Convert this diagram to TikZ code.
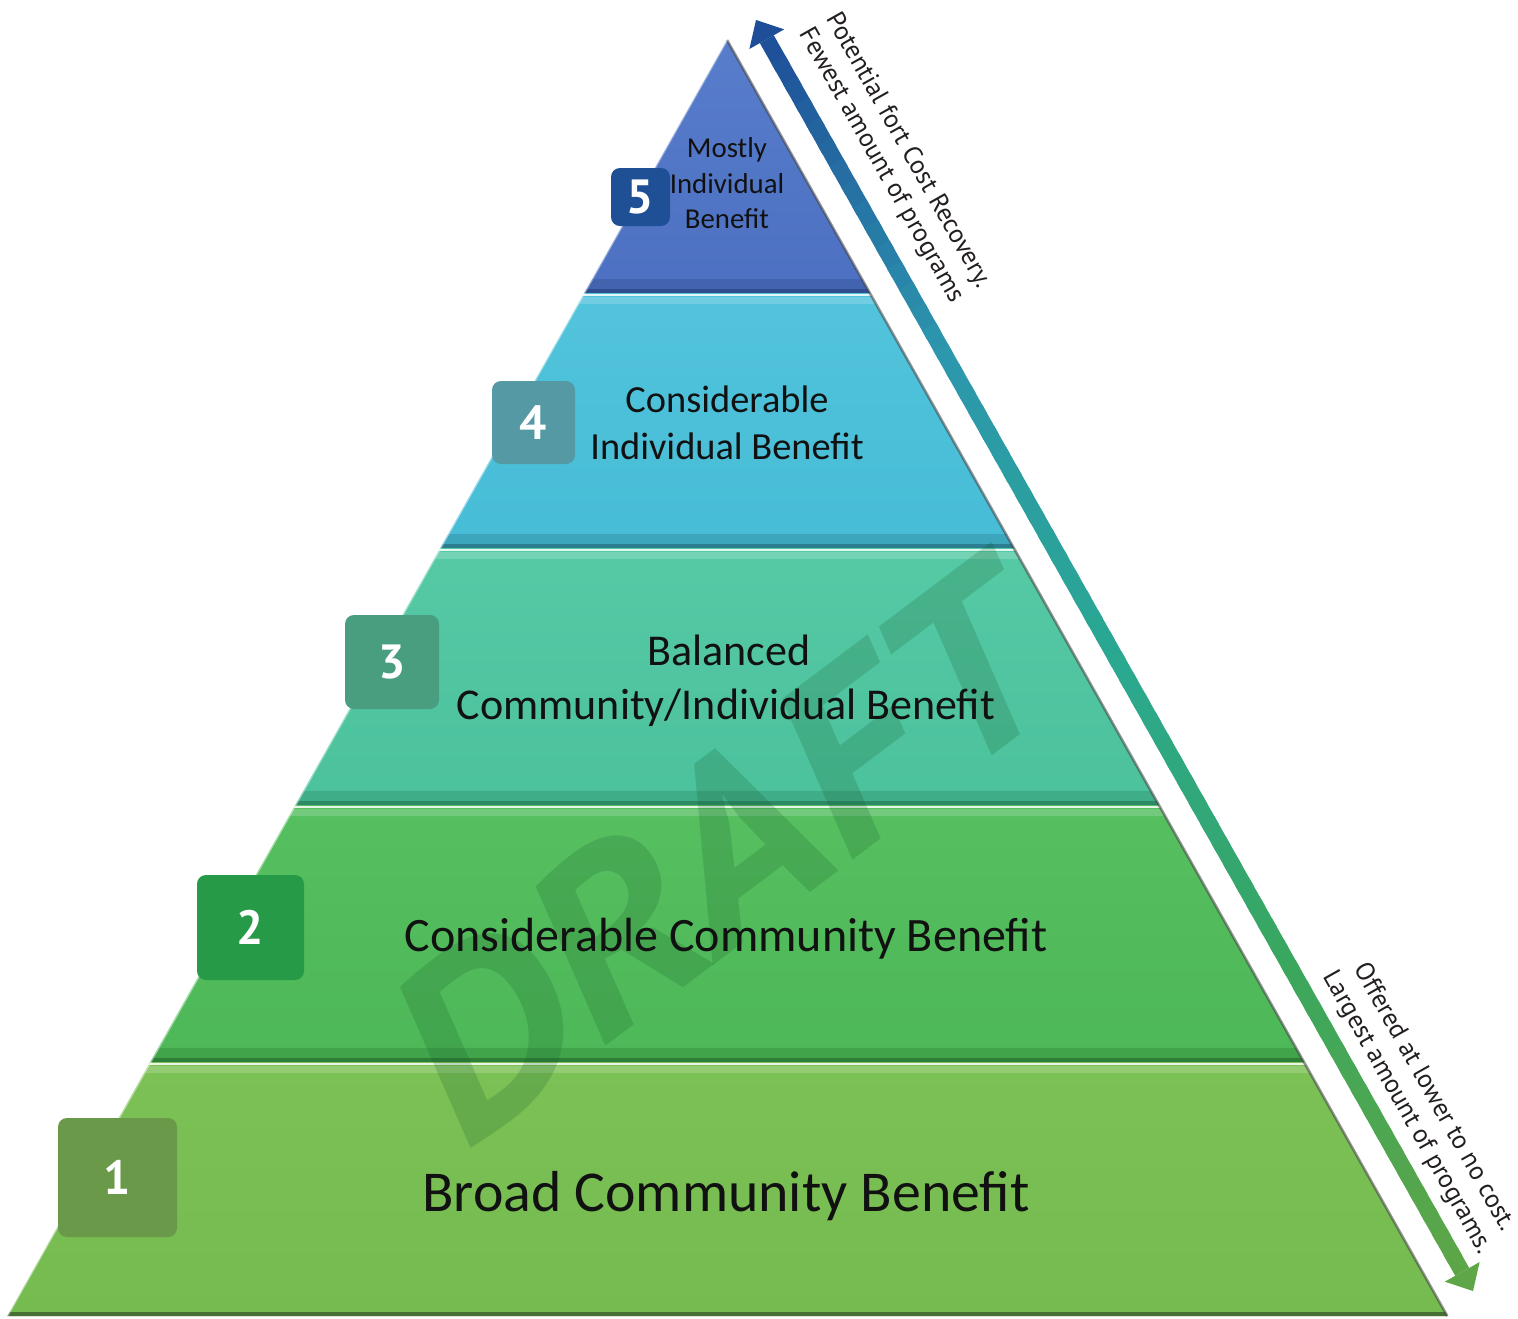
\documentclass[tikz,border=0pt]{standalone}
\usepackage{fontspec}
\setmainfont{Carlito}
\newfontfamily\ptsans{PT Sans}
\usetikzlibrary{calc}

% tier fills
\definecolor{t5}{HTML}{4D70C2}
\definecolor{t5top}{HTML}{587DCB}
\definecolor{t5dark}{HTML}{2E4C8E}
\definecolor{t4}{HTML}{47BCD6}
\definecolor{t4top}{HTML}{52C4DC}
\definecolor{t4dark}{HTML}{2A7E90}
\definecolor{t3}{HTML}{4BC19C}
\definecolor{t3top}{HTML}{56C9A5}
\definecolor{t3dark}{HTML}{2C8A66}
\definecolor{t2}{HTML}{4DB857}
\definecolor{t2top}{HTML}{56BF60}
\definecolor{t2dark}{HTML}{2D7F37}
\definecolor{t1}{HTML}{75BB4F}
\definecolor{t1top}{HTML}{7CC155}
\definecolor{t1dark}{HTML}{476F33}
% number badges
\definecolor{bd5}{HTML}{1F4F94}
\definecolor{bd4}{HTML}{5499A4}
\definecolor{bd3}{HTML}{4A9E80}
\definecolor{bd2}{HTML}{279A48}
\definecolor{bd1}{HTML}{6A994A}
% arrow gradient stops
\definecolor{arA}{HTML}{1F4E99}
\definecolor{arB}{HTML}{2C96AE}
\definecolor{arC}{HTML}{2AA892}
\definecolor{arD}{HTML}{3AA75E}
\definecolor{arE}{HTML}{5EA647}
\definecolor{labelc}{HTML}{111111}
\definecolor{arrtext}{HTML}{231F20}
\definecolor{wmgreen}{HTML}{145A28}

\begin{document}
\begin{tikzpicture}[x=0.5pt,y=-0.5pt,
  lbl/.style={anchor=base, text=labelc, inner sep=0pt},
  badge/.style={rounded corners=4.5pt, text=white, inner sep=0pt,
    font=\ptsans\bfseries\fontsize{24}{24}\selectfont},
  arrtxt/.style={rotate=-60.57, align=center, text=arrtext, inner sep=0pt,
    font=\ptsans\fontsize{13}{15.5}\selectfont}]

\useasboundingbox (0,0) rectangle (1518,1318);
\fill[white] (0,0) rectangle (1518,1318);

% pyramid corners, tier by tier
\coordinate (apex) at (727,40);
\coordinate (l1) at (584.2,293);  \coordinate (r1) at (869.8,293);
\coordinate (l2) at (440.2,548);  \coordinate (r2) at (1013.8,548);
\coordinate (l3) at (295.2,805);  \coordinate (r3) at (1158.8,805);
\coordinate (l4) at (150.1,1062); \coordinate (r4) at (1303.9,1062);
\coordinate (l5) at (7.3,1316);   \coordinate (r5) at (1447.3,1316);

\shade[top color=t5top, bottom color=t5] (apex) -- (r1) -- (l1) -- cycle;
\shade[top color=t4top, bottom color=t4] (l1) -- (r1) -- (r2) -- (l2) -- cycle;
\shade[top color=t3top, bottom color=t3] (l2) -- (r2) -- (r3) -- (l3) -- cycle;
\shade[top color=t2top, bottom color=t2] (l3) -- (r3) -- (r4) -- (l4) -- cycle;
\shade[top color=t1top, bottom color=t1] (l4) -- (r4) -- (r5) -- (l5) -- cycle;

% glassy separators between the tiers
\begin{scope}
  \clip (apex) -- (r5) -- (l5) -- cycle;
  \foreach \yb/\dk/\nx in {293/t5dark/t4top, 548/t4dark/t3top, 805/t3dark/t2top, 1062/t2dark/t1top}{
    \fill[\dk, opacity=0.35] (0,\yb-14) rectangle (1518,\yb-4);
    \fill[\dk] (0,\yb-4) rectangle (1518,\yb);
    \fill[white, opacity=0.85] (0,\yb+0.5) rectangle (1518,\yb+3);
    \fill[\nx!70!white, opacity=0.6] (0,\yb+4) rectangle (1518,\yb+11);
  }
  \fill[t1dark] (0,1312) rectangle (1518,1318);
\end{scope}
\draw[black!75, opacity=0.55, line width=1.3pt] (apex) -- (r5);
\draw[white, opacity=0.45, line width=1pt] (apex) -- (l5);

% watermark
\node[anchor=base west, rotate=37, xscale=1.12, inner sep=0pt, text=wmgreen, opacity=0.2,
      font=\ptsans\bfseries\itshape\fontsize{122}{122}\selectfont] (draft) at (466,1152) {DRAFT};

% tier labels
\node[lbl, font=\fontsize{14.4}{17}\selectfont] (m1) at (727,157) {Mostly};
\node[lbl, font=\fontsize{14.4}{17}\selectfont] (m2) at (727,193) {Individual};
\node[lbl, font=\fontsize{14.4}{17}\selectfont] (m3) at (727,228) {Benefit};
\node[lbl, font=\fontsize{19.2}{23}\selectfont] (c1) at (727,412) {Considerable};
\node[lbl, font=\fontsize{19.2}{23}\selectfont] (c2) at (727,459) {Individual Benefit};
\node[lbl, font=\fontsize{22}{26}\selectfont] (bl1) at (729,665) {Balanced};
\node[lbl, font=\fontsize{22}{26}\selectfont] (bl2) at (726,719) {Community/Individual Benefit};
\node[lbl, font=\fontsize{24}{29}\selectfont] (ccb) at (726,951) {Considerable Community Benefit};
\node[lbl, font=\fontsize{28.9}{34}\selectfont] (bcb) at (726,1211) {Broad Community Benefit};

% number badges
\node[badge, fill=bd5, minimum width=29.5pt, minimum height=29pt] (n5) at (640.5,197) {5};
\node[badge, fill=bd4, minimum width=41.5pt, minimum height=41.5pt] (n4) at (533.5,422.5) {4};
\node[badge, fill=bd3, minimum width=47pt, minimum height=47pt] (n3) at (392,662) {3};
\node[badge, fill=bd2, minimum width=53.5pt, minimum height=52.5pt] (n2) at (250.5,927.5) {2};
\node[badge, fill=bd1, minimum width=59.5pt, minimum height=59.5pt] (n1) at (117.5,1177.5) {1};

% double-headed gradient arrow beside the pyramid
\coordinate (tipT) at (756,20);
\coordinate (tipB) at (1473,1291);
\coordinate (hbT) at ($(tipT)!11pt!(tipB)$);
\coordinate (hbB) at ($(tipB)!11pt!(tipT)$);
\foreach \ca/\cb/\s in {arA/arB/0,arB/arC/1,arC/arD/2,arD/arE/3}{
  \foreach \j in {0,...,14}{
    \pgfmathsetmacro\ta{(\s*15+\j)/60}
    \pgfmathsetmacro\tb{min(1,(\s*15+\j+1.4)/60)}
    \pgfmathsetmacro\p{100*(\j+0.5)/15}
    \draw[line width=8pt, draw=\cb!\p!\ca] ($(hbT)!\ta!(hbB)$) -- ($(hbT)!\tb!(hbB)$);
  }
}
\fill[arA] (tipT) -- ($(hbT)!10pt!90:(tipB)$) -- ($(hbT)!10pt!-90:(tipB)$) -- cycle;
\fill[arE] (tipB) -- ($(hbB)!10pt!90:(tipT)$) -- ($(hbB)!10pt!-90:(tipT)$) -- cycle;

% captions along the arrow
\node[arrtxt] (captop) at (894,158) {Potential fort Cost Recovery.\\Fewest amount of programs};
\node[arrtxt] (capbot) at (1420,1105) {Offered at lower to no cost.\\Largest amount of programs.};
\end{tikzpicture}
\end{document}
